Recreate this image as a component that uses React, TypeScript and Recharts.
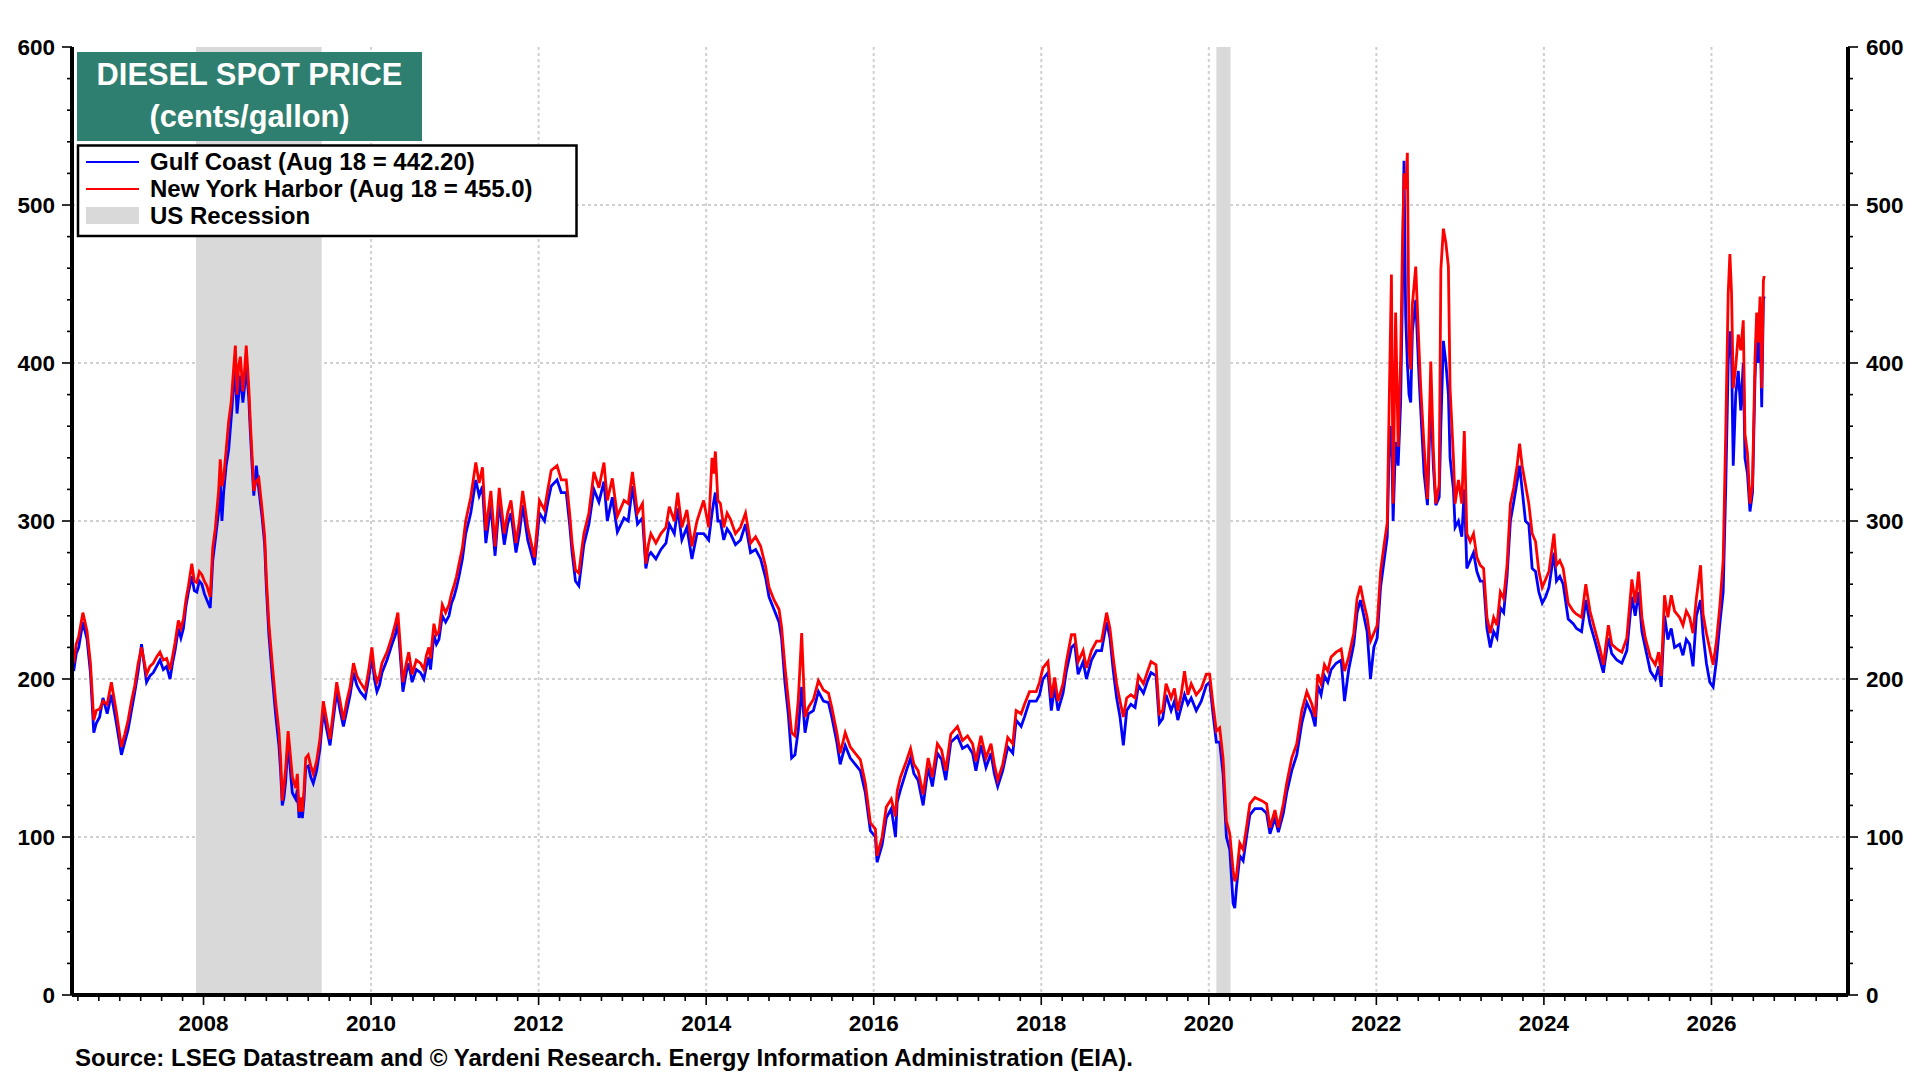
import React from "react";
import { LineChart, Line, XAxis, YAxis, CartesianGrid, ReferenceArea } from "recharts";

const FONT = '"Liberation Sans", Arial, Helvetica, sans-serif';

// Dates as decimal years
const dateYears: number[] = [
  2006.45, 2006.48, 2006.51, 2006.56, 2006.61, 2006.65, 2006.69, 2006.72, 2006.76, 2006.8, 2006.85, 2006.9, 2006.96,
  2007.02, 2007.06, 2007.1, 2007.14, 2007.18, 2007.22, 2007.26, 2007.32, 2007.36, 2007.4, 2007.44, 2007.48, 2007.52, 2007.56, 2007.6, 2007.63, 2007.66, 2007.7, 2007.73, 2007.76, 2007.79, 2007.82, 2007.86, 2007.89, 2007.92, 2007.95, 2007.98,
  2008.01, 2008.04, 2008.08, 2008.11, 2008.14, 2008.18, 2008.2, 2008.22, 2008.24, 2008.27, 2008.3, 2008.33, 2008.36, 2008.38, 2008.4, 2008.42, 2008.44, 2008.47, 2008.49, 2008.51, 2008.54, 2008.56, 2008.59, 2008.6, 2008.63, 2008.66, 2008.7, 2008.73, 2008.75, 2008.78, 2008.82, 2008.84, 2008.86, 2008.9, 2008.92, 2008.94, 2008.96, 2008.98,
  2009.01, 2009.04, 2009.06, 2009.1, 2009.12, 2009.14, 2009.16, 2009.18, 2009.2, 2009.22, 2009.25, 2009.28, 2009.31, 2009.35, 2009.39, 2009.43, 2009.47, 2009.51, 2009.55, 2009.59, 2009.63, 2009.67, 2009.71, 2009.75, 2009.79, 2009.83, 2009.87, 2009.93, 2009.97,
  2010.01, 2010.04, 2010.07, 2010.1, 2010.13, 2010.19, 2010.25, 2010.29, 2010.32, 2010.35, 2010.38, 2010.42, 2010.45, 2010.49, 2010.54, 2010.59, 2010.63, 2010.66, 2010.69, 2010.71, 2010.75, 2010.78, 2010.81, 2010.85, 2010.89, 2010.93, 2010.96, 2010.99,
  2011.02, 2011.05, 2011.09, 2011.13, 2011.19, 2011.25, 2011.29, 2011.33, 2011.37, 2011.43, 2011.48, 2011.53, 2011.59, 2011.63, 2011.67, 2011.73, 2011.77, 2011.81, 2011.87, 2011.95,
  2012.01, 2012.07, 2012.11, 2012.15, 2012.22, 2012.27, 2012.33, 2012.37, 2012.4, 2012.44, 2012.48, 2012.51, 2012.54, 2012.6, 2012.66, 2012.72, 2012.78, 2012.82, 2012.88, 2012.94,
  2013.02, 2013.07, 2013.12, 2013.18, 2013.24, 2013.28, 2013.31, 2013.34, 2013.4, 2013.46, 2013.52, 2013.56, 2013.62, 2013.66, 2013.71, 2013.77, 2013.83, 2013.89, 2013.97,
  2014.03, 2014.07, 2014.09, 2014.11, 2014.14, 2014.17, 2014.21, 2014.25, 2014.29, 2014.35, 2014.41, 2014.47, 2014.53, 2014.59, 2014.65, 2014.71, 2014.75, 2014.81, 2014.87, 2014.9, 2014.94, 2014.98,
  2015.02, 2015.06, 2015.1, 2015.14, 2015.18, 2015.22, 2015.28, 2015.34, 2015.4, 2015.46, 2015.5, 2015.56, 2015.6, 2015.66, 2015.72, 2015.78, 2015.84, 2015.9, 2015.96,
  2016.02, 2016.04, 2016.1, 2016.15, 2016.21, 2016.26, 2016.28, 2016.32, 2016.39, 2016.44, 2016.48, 2016.53, 2016.59, 2016.65, 2016.7, 2016.76, 2016.81, 2016.86, 2016.92,
  2017.0, 2017.06, 2017.12, 2017.18, 2017.22, 2017.28, 2017.34, 2017.4, 2017.44, 2017.48, 2017.54, 2017.6, 2017.66, 2017.7, 2017.76, 2017.8, 2017.86, 2017.94, 2017.98,
  2018.02, 2018.08, 2018.12, 2018.16, 2018.2, 2018.26, 2018.3, 2018.36, 2018.4, 2018.44, 2018.5, 2018.54, 2018.6, 2018.66, 2018.72, 2018.78, 2018.82, 2018.86, 2018.9, 2018.94, 2018.98,
  2019.02, 2019.07, 2019.12, 2019.16, 2019.22, 2019.27, 2019.31, 2019.37, 2019.41, 2019.45, 2019.49, 2019.55, 2019.59, 2019.63, 2019.67, 2019.71, 2019.75, 2019.79, 2019.85, 2019.91, 2019.97,
  2020.01, 2020.05, 2020.09, 2020.13, 2020.17, 2020.21, 2020.25, 2020.29, 2020.31, 2020.33, 2020.37, 2020.41, 2020.45, 2020.49, 2020.55, 2020.63, 2020.69, 2020.73, 2020.79, 2020.83, 2020.89, 2020.93, 2020.99,
  2021.05, 2021.11, 2021.17, 2021.23, 2021.27, 2021.3, 2021.34, 2021.38, 2021.42, 2021.46, 2021.52, 2021.58, 2021.62, 2021.67, 2021.73, 2021.77, 2021.81, 2021.85, 2021.89, 2021.93, 2021.97,
  2022.01, 2022.05, 2022.09, 2022.13, 2022.15, 2022.18, 2022.2, 2022.23, 2022.26, 2022.29, 2022.31, 2022.33, 2022.35, 2022.37, 2022.39, 2022.41, 2022.43, 2022.47, 2022.51, 2022.53, 2022.57, 2022.61, 2022.65, 2022.68, 2022.71, 2022.75, 2022.77, 2022.8, 2022.83, 2022.86, 2022.88, 2022.92, 2022.94, 2022.98,
  2023.02, 2023.05, 2023.08, 2023.12, 2023.16, 2023.2, 2023.24, 2023.28, 2023.32, 2023.36, 2023.4, 2023.44, 2023.48, 2023.52, 2023.56, 2023.6, 2023.64, 2023.68, 2023.71, 2023.74, 2023.78, 2023.82, 2023.86, 2023.9, 2023.94, 2023.98,
  2024.02, 2024.06, 2024.12, 2024.15, 2024.19, 2024.23, 2024.29, 2024.35, 2024.39, 2024.45, 2024.5, 2024.55, 2024.61, 2024.67, 2024.71, 2024.77, 2024.81, 2024.87, 2024.93, 2024.99,
  2025.05, 2025.09, 2025.13, 2025.17, 2025.21, 2025.27, 2025.33, 2025.37, 2025.4, 2025.44, 2025.48, 2025.52, 2025.56, 2025.62, 2025.66, 2025.7, 2025.74, 2025.78, 2025.82, 2025.87, 2025.9, 2025.94, 2025.98,
  2026.02, 2026.06, 2026.1, 2026.14, 2026.17, 2026.2, 2026.22, 2026.24, 2026.26, 2026.29, 2026.32, 2026.35, 2026.38, 2026.4, 2026.43, 2026.46, 2026.49, 2026.52, 2026.54, 2026.56, 2026.58, 2026.6, 2026.62, 2026.63,
];

// Gulf Coast, cents/gallon
const gulfCoast: number[] = [
  205, 216, 220, 236, 225, 204, 166, 172, 176, 188, 178, 190, 172,
  152, 160, 168, 180, 192, 205, 222, 198, 202, 204, 208, 212, 206, 208, 200, 210, 218, 232, 226, 232, 246, 255, 265, 256, 255, 262, 260,
  254, 250, 245, 275, 288, 306, 325, 300, 318, 335, 345, 365, 386, 395, 368, 380, 392, 375, 385, 398, 378, 355, 325, 316, 335, 320, 302, 285, 258, 228, 202, 190, 178, 158, 142, 120, 125, 135,
  160, 140, 128, 124, 130, 112, 118, 112, 124, 144, 145, 138, 134, 142, 156, 180, 168, 158, 175, 192, 180, 170, 180, 190, 204, 196, 192, 188, 200,
  214, 200, 192, 196, 204, 212, 222, 228, 236, 214, 192, 204, 210, 198, 206, 204, 200, 208, 214, 206, 228, 222, 225, 240, 236, 240, 248, 252,
  258, 265, 276, 292, 305, 326, 316, 322, 286, 310, 278, 312, 285, 298, 305, 280, 292, 310, 288, 272,
  305, 300, 312, 322, 326, 318, 318, 298, 280, 262, 259, 272, 285, 298, 320, 312, 325, 300, 315, 293,
  302, 300, 322, 298, 302, 270, 278, 280, 276, 282, 286, 298, 292, 308, 288, 296, 276, 292, 292,
  288, 305, 312, 318, 300, 300, 288, 295, 292, 285, 288, 298, 280, 282, 276, 264, 252, 244, 236, 226, 198, 178,
  150, 152, 168, 195, 166, 178, 180, 192, 186, 185, 176, 160, 146, 158, 150, 146, 142, 128, 104,
  100, 84, 95, 112, 118, 100, 122, 130, 142, 150, 140, 136, 120, 144, 132, 153, 149, 136, 160,
  164, 156, 158, 153, 142, 158, 144, 153, 140, 132, 142, 157, 153, 174, 170, 176, 186, 186, 190,
  200, 204, 180, 195, 180, 191, 205, 220, 222, 203, 211, 200, 212, 218, 218, 236, 226, 205, 188, 176, 158,
  180, 184, 182, 196, 191, 199, 204, 202, 172, 175, 190, 180, 186, 174, 182, 190, 184, 188, 180, 186, 196,
  198, 178, 160, 160, 140, 100, 92, 58, 55, 68, 88, 85, 100, 114, 118, 118, 115, 102, 112, 103, 115, 128, 142,
  152, 172, 185, 178, 170, 196, 190, 202, 198, 206, 210, 212, 186, 206, 222, 242, 250, 240, 230, 200, 220,
  226, 258, 274, 290, 340, 360, 300, 350, 335, 375, 440, 528, 430, 400, 380, 375, 420, 440, 390, 370, 330, 310, 380, 335, 310, 315, 360, 414, 400, 380, 340, 320, 296, 300,
  290, 320, 270, 275, 280, 268, 262, 262, 232, 220, 230, 226, 245, 242, 265, 300, 312, 325, 335, 320, 300, 298, 270, 268, 255, 248,
  252, 258, 280, 262, 265, 260, 238, 235, 232, 230, 250, 235, 224, 212, 204, 226, 216, 212, 210, 218,
  252, 240, 255, 230, 220, 205, 200, 208, 195, 240, 225, 232, 220, 222, 215, 225, 222, 208, 240, 250, 228, 210, 198,
  195, 212, 235, 255, 320, 400, 420, 405, 335, 380, 395, 370, 400, 340, 330, 306, 318, 390, 420, 400, 430, 372, 440, 442.2,
];

// New York Harbor, cents/gallon
const newYorkHarbor: number[] = [
  210, 222, 227, 242, 230, 210, 174, 180, 181, 186, 184, 198, 179,
  157, 165, 174, 186, 196, 210, 220, 203, 208, 210, 214, 217, 212, 213, 206, 214, 223, 237, 232, 238, 250, 259, 273, 262, 261, 268, 266,
  262, 259, 252, 283, 295, 319, 339, 322, 327, 345, 363, 375, 397, 411, 380, 398, 404, 382, 395, 411, 385, 361, 331, 319, 325, 327, 307, 290, 264, 235, 210, 198, 186, 167, 150, 123, 132, 143,
  167, 150, 138, 131, 140, 116, 125, 116, 130, 150, 152, 145, 140, 148, 162, 186, 174, 162, 180, 198, 186, 174, 186, 195, 210, 202, 198, 193, 205,
  220, 205, 198, 202, 210, 217, 227, 235, 242, 220, 198, 210, 217, 203, 212, 210, 206, 215, 220, 213, 235, 228, 230, 247, 242, 247, 254, 259,
  265, 273, 283, 300, 315, 337, 324, 334, 294, 319, 284, 321, 292, 305, 313, 286, 300, 319, 296, 277,
  313, 307, 320, 332, 335, 326, 326, 305, 286, 269, 267, 280, 292, 305, 331, 321, 337, 313, 327, 303,
  313, 311, 331, 305, 311, 273, 285, 292, 286, 292, 296, 309, 300, 318, 296, 307, 284, 300, 313,
  296, 340, 330, 344, 313, 311, 296, 305, 301, 292, 296, 305, 286, 290, 284, 271, 258, 250, 244, 233, 208, 187,
  166, 164, 187, 229, 176, 182, 187, 199, 193, 191, 182, 166, 153, 166, 157, 153, 149, 134, 109,
  105, 88, 100, 119, 124, 113, 129, 138, 148, 156, 146, 142, 127, 150, 138, 159, 155, 142, 165,
  170, 161, 164, 159, 148, 164, 150, 159, 146, 136, 146, 163, 159, 180, 178, 184, 192, 192, 198,
  207, 211, 188, 201, 186, 197, 211, 228, 228, 211, 218, 207, 218, 224, 224, 242, 232, 213, 197, 186, 176,
  188, 190, 188, 202, 197, 205, 211, 209, 178, 180, 197, 188, 194, 180, 190, 205, 190, 197, 190, 194, 203,
  203, 184, 167, 169, 150, 110, 102, 79, 72, 75, 96, 92, 106, 121, 125, 123, 121, 106, 117, 106, 121, 134, 150,
  159, 180, 192, 184, 176, 203, 197, 209, 205, 214, 217, 219, 205, 214, 229, 251, 259, 248, 239, 224, 229,
  234, 268, 284, 299, 364, 456, 311, 432, 347, 403, 470, 520, 510, 533, 408, 396, 437, 461, 408, 384, 347, 314, 401, 345, 311, 323, 459, 485, 476, 461, 384, 340, 311, 326,
  311, 357, 292, 287, 292, 277, 272, 270, 239, 229, 239, 234, 255, 251, 272, 311, 321, 335, 349, 335, 323, 311, 292, 287, 268, 258,
  263, 268, 292, 272, 275, 270, 248, 243, 241, 239, 260, 243, 231, 219, 209, 234, 222, 219, 217, 226,
  263, 248, 268, 239, 226, 214, 209, 217, 202, 253, 239, 253, 243, 239, 234, 243, 239, 229, 251, 272, 241, 229, 219,
  209, 224, 246, 275, 355, 444, 469, 444, 384, 398, 418, 408, 427, 355, 343, 311, 323, 403, 432, 413, 442, 384, 452, 455,
];

const recessionStarts = [2007.91, 2020.09];
const recessionEnds = [2009.41, 2020.26];

const yLabelValues = [0, 100, 200, 300, 400, 500, 600];
const xLabelYears = [2008, 2010, 2012, 2014, 2016, 2018, 2020, 2022, 2024, 2026];
const xDomain: [number, number] = [2006.43, 2027.63];
const yDomain: [number, number] = [0, 600];

const yTicks = Array.from({ length: 31 }, (_, i) => i * 20);
const xTicks = Array.from({ length: 85 }, (_, i) => 2006.5 + i * 0.25);

const data = dateYears.map((t, i) => ({ t, gc: gulfCoast[i], ny: newYorkHarbor[i] }));

const TS = 10;
const TM = 6;
const AXIS_FS = 22.5;
const LEGEND_FS = 24;
const TITLE_FS = 30.8;

const isLabelYear = (v: number) =>
  Math.abs(v - Math.round(v)) < 1e-6 && xLabelYears.includes(Math.round(v));

const LeftTick = (p: any) => {
  const ax = p.x + TS + TM;
  const v = p.payload.value;
  const major = yLabelValues.includes(v);
  return (
    <g>
      <line x1={ax - (major ? 10 : 5)} y1={p.y} x2={ax} y2={p.y} stroke="#000" strokeWidth={1.6} />
      {major && (
        <text x={ax - 17} y={p.y + 8} textAnchor="end" fontFamily={FONT} fontWeight="bold" fontSize={AXIS_FS} fill="#000">
          {v}
        </text>
      )}
    </g>
  );
};

const RightTick = (p: any) => {
  const ax = p.x - TS - TM;
  const v = p.payload.value;
  const major = yLabelValues.includes(v);
  return (
    <g>
      <line x1={ax} y1={p.y} x2={ax + (major ? 10 : 5)} y2={p.y} stroke="#000" strokeWidth={1.6} />
      {major && (
        <text x={ax + 18} y={p.y + 8} textAnchor="start" fontFamily={FONT} fontWeight="bold" fontSize={AXIS_FS} fill="#000">
          {v}
        </text>
      )}
    </g>
  );
};

const BottomTick = (p: any) => {
  const ay = p.y - TS - TM;
  const v = p.payload.value;
  const major = isLabelYear(v);
  return (
    <g>
      <line x1={p.x} y1={ay} x2={p.x} y2={ay + (major ? 10 : 6)} stroke="#000" strokeWidth={1.6} />
      {major && (
        <text x={p.x} y={ay + 36} textAnchor="middle" fontFamily={FONT} fontWeight="bold" fontSize={AXIS_FS} fill="#000">
          {Math.round(v)}
        </text>
      )}
    </g>
  );
};

const frameLine = { stroke: "#000", strokeWidth: 4 };

export default function App() {
  return (
    <div style={{ position: "absolute", left: 0, top: 0, width: 1920, height: 1080, background: "#fff", fontFamily: FONT }}>
      <LineChart width={1920} height={1080} data={data} margin={{ top: 47, right: 0, bottom: 0, left: 0 }}>
        {recessionStarts.map((s, i) => (
          <ReferenceArea key={i} x1={s} x2={recessionEnds[i]} fill="#d9d9d9" fillOpacity={1} stroke="none" />
        ))}
        <CartesianGrid
          horizontalValues={[100, 200, 300, 400, 500]}
          verticalValues={xLabelYears}
          stroke="#d0d0d0"
          strokeWidth={2}
          strokeDasharray="3 3"
        />
        <XAxis
          dataKey="t"
          type="number"
          domain={xDomain}
          ticks={xTicks}
          interval={0}
          allowDataOverflow
          height={85}
          tickSize={TS}
          tickMargin={TM}
          tickLine={false}
          tick={<BottomTick />}
          axisLine={frameLine}
        />
        <XAxis
          xAxisId="top"
          dataKey="t"
          type="number"
          orientation="top"
          domain={xDomain}
          allowDataOverflow
          height={0}
          tick={false}
          tickLine={false}
          axisLine={frameLine}
        />
        <YAxis
          domain={yDomain}
          ticks={yTicks}
          interval={0}
          width={72}
          allowDataOverflow
          tickSize={TS}
          tickMargin={TM}
          tickLine={false}
          tick={<LeftTick />}
          axisLine={frameLine}
        />
        <YAxis
          yAxisId="right"
          orientation="right"
          domain={yDomain}
          ticks={yTicks}
          interval={0}
          width={72}
          allowDataOverflow
          tickSize={TS}
          tickMargin={TM}
          tickLine={false}
          tick={<RightTick />}
          axisLine={frameLine}
        />
        <Line type="linear" dataKey="gc" stroke="#0000ff" strokeWidth={2.8} dot={false} isAnimationActive={false} />
        <Line type="linear" dataKey="ny" stroke="#ff0000" strokeWidth={2.8} dot={false} isAnimationActive={false} />
      </LineChart>
      <svg width={1920} height={1080} style={{ position: "absolute", left: 0, top: 0, pointerEvents: "none" }}>
        <rect x={77} y={52} width={345} height={89} fill="#2F7F70" />
        <text x={249.5} y={85} textAnchor="middle" fill="#fff" fontFamily={FONT} fontWeight="bold" fontSize={TITLE_FS}>
          DIESEL SPOT PRICE
        </text>
        <text x={249.5} y={127} textAnchor="middle" fill="#fff" fontFamily={FONT} fontWeight="bold" fontSize={TITLE_FS}>
          (cents/gallon)
        </text>
        <rect x={78} y={145.5} width={498.5} height={90.5} fill="#fff" stroke="#000" strokeWidth={2.5} />
        <line x1={86} y1={162} x2={139} y2={162} stroke="#0000ff" strokeWidth={2} />
        <text x={150} y={170} fontFamily={FONT} fontWeight="bold" fontSize={LEGEND_FS} fill="#000">
          Gulf Coast (Aug 18 = 442.20)
        </text>
        <line x1={86} y1={189} x2={139} y2={189} stroke="#ff0000" strokeWidth={2} />
        <text x={150} y={197} fontFamily={FONT} fontWeight="bold" fontSize={LEGEND_FS} fill="#000">
          New York Harbor (Aug 18 = 455.0)
        </text>
        <rect x={86} y={207} width={53} height={17} fill="#d9d9d9" />
        <text x={150} y={224} fontFamily={FONT} fontWeight="bold" fontSize={LEGEND_FS} fill="#000">
          US Recession
        </text>
        <text x={75} y={1066} fontFamily={FONT} fontWeight="bold" fontSize={24} fill="#000">
          Source: LSEG Datastream and © Yardeni Research. Energy Information Administration (EIA).
        </text>
      </svg>
    </div>
  );
}
